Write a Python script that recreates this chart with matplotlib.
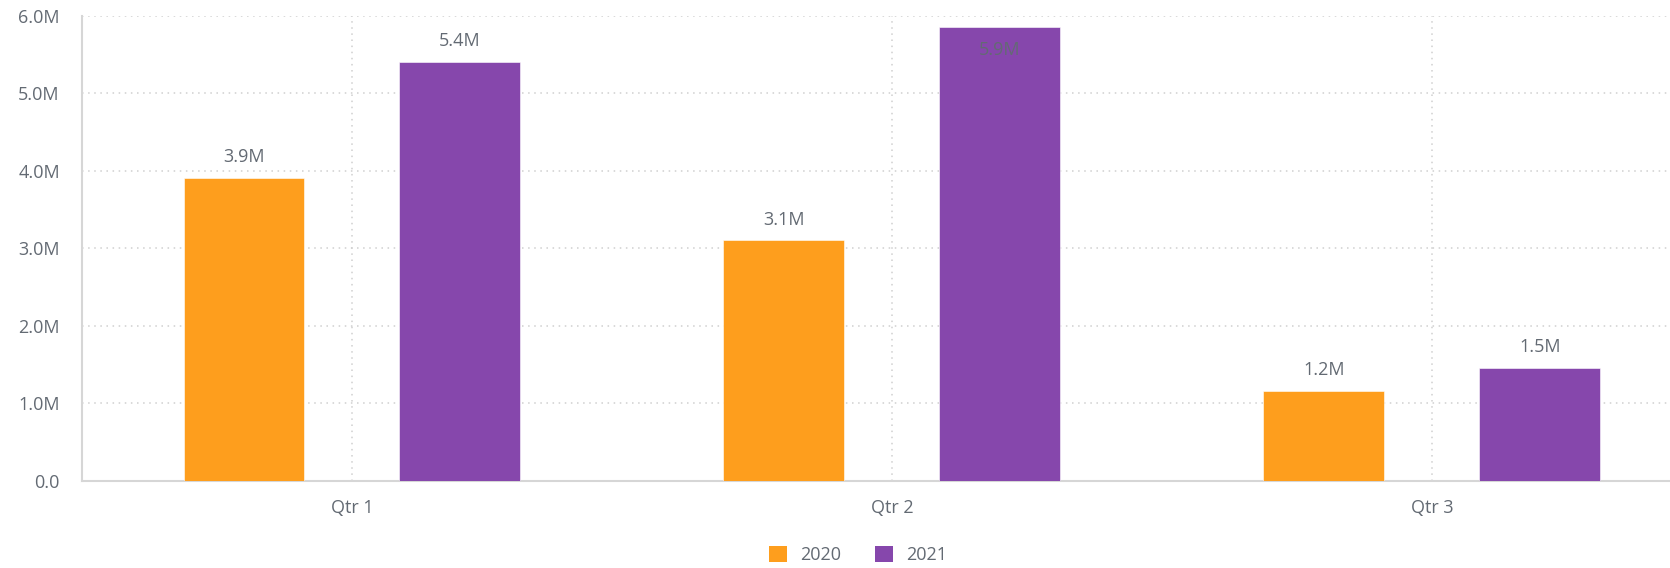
import numpy as np
import matplotlib
matplotlib.use("Agg")
import matplotlib.pyplot as plt
from matplotlib.patches import Patch
from matplotlib.ticker import FuncFormatter

quarters = ["Qtr 1", "Qtr 2", "Qtr 3"]
years = ["2020", "2021"]
sales_2020 = [3.906e6, 3.10e6, 1.16e6]
sales_2021 = [5.40e6, 5.86e6, 1.46e6]

COLORS = {"2020": "#FE9E1D", "2021": "#8647AC"}
TEXT = "#636a73"
GRID = "#cfcfcf"

plt.rcParams["font.family"] = ["Open Sans", "DejaVu Sans"]
plt.rcParams["font.size"] = 13


def millions(v, pos=None):
    if v == 0:
        return "0.0"
    return f"{v / 1e6:.1f}M"


def draw_chart():
    fig = plt.figure(figsize=(16.7, 5.68), dpi=100)
    # axis runs a little past the right edge of the canvas
    ax = fig.add_axes([0.0491, 0.1537, 0.970, 0.8187])

    x = np.arange(len(quarters))
    width = 0.224
    offset = 0.2
    ymax = 6e6
    for vals, yr, sign in [(sales_2020, "2020", -1), (sales_2021, "2021", 1)]:
        bars = ax.bar(x + sign * offset, vals, width, color=COLORS[yr],
                      edgecolor="white", linewidth=0.4, zorder=3)
        for b, v in zip(bars, vals):
            cx = b.get_x() + b.get_width() / 2
            # labels that would run off the top go inside the bar
            dy = 15 if v < ymax * 0.94 else -17
            ax.annotate(millions(v), (cx, v), xytext=(0, dy),
                        textcoords="offset points", ha="center", va="center",
                        color=TEXT, zorder=4)

    ax.set_xlim(-0.5, 2.5)
    ax.set_ylim(0, ymax)
    ax.set_xticks(x)
    ax.set_xticklabels(quarters)
    ax.set_yticks(np.arange(0, 7e6, 1e6))
    ax.yaxis.set_major_formatter(FuncFormatter(millions))
    ax.tick_params(axis="both", length=0, colors=TEXT)
    ax.tick_params(axis="x", pad=13)
    ax.tick_params(axis="y", pad=16)

    ax.grid(True, color=GRID, linestyle=(0, (1, 3)), linewidth=1.1, zorder=0)
    ax.set_axisbelow(True)
    for side in ["top", "right"]:
        ax.spines[side].set_visible(False)
    for side in ["left", "bottom"]:
        ax.spines[side].set_color("#d6d6d6")
        ax.spines[side].set_linewidth(1.5)

    handles = [Patch(facecolor=COLORS[y], edgecolor="none", label=y) for y in years]
    fig.legend(handles=handles, loc="center", ncol=2, frameon=False,
               bbox_to_anchor=(858 / 1670, 1 - 555 / 568),
               handlelength=1.0, handleheight=1.0, handletextpad=0.7,
               columnspacing=1.9, labelcolor=TEXT)

    fig.savefig("out.png", dpi=100, facecolor="white")


if __name__ == "__main__":
    draw_chart()
